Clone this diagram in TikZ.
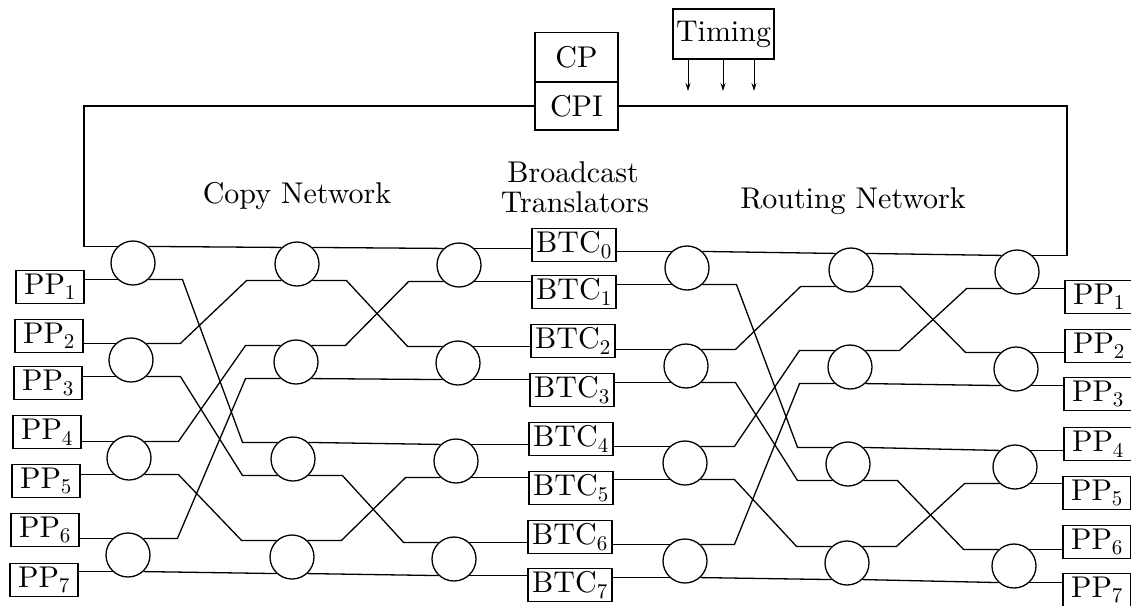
\documentclass[tikz,border=0pt]{standalone}
\usepackage{fontspec}
\setmainfont{lmroman10-regular.otf}
\usetikzlibrary{arrows.meta}
\begin{document}
\begin{tikzpicture}[x=1pt,y=-1pt,
  every node/.style={font=\fontsize{30}{36}\selectfont},
  wire/.style={line width=1.3pt},
  sw/.style={circle,draw,line width=1.3pt,minimum size=44pt,inner sep=0pt},
  ppbox/.style={draw,line width=1.2pt,minimum width=68pt,minimum height=33pt,inner sep=0pt},
  btcbox/.style={draw,line width=1.2pt,minimum width=84pt,minimum height=33pt,inner sep=0pt},
  cpbox/.style={draw,line width=1.2pt,minimum width=83pt,minimum height=48pt,inner sep=0pt},
  tarrow/.style={line width=1pt,-{Stealth[length=8pt,width=5pt]}}
]
\useasboundingbox (0,0) rectangle (1131,605);

% switches
\node[sw] (c11) at (133,263) {};
\node[sw] (c12) at (131,360) {};
\node[sw] (c13) at (129,458) {};
\node[sw] (c14) at (128,555) {};
\node[sw] (c21) at (297,264) {};
\node[sw] (c22) at (296,362) {};
\node[sw] (c23) at (293,459) {};
\node[sw] (c24) at (292,557) {};
\node[sw] (c31) at (459,265) {};
\node[sw] (c32) at (458,363) {};
\node[sw] (c33) at (456,461) {};
\node[sw] (c34) at (454,559) {};
\node[sw] (c41) at (687,268) {};
\node[sw] (c42) at (686,366) {};
\node[sw] (c43) at (685,463) {};
\node[sw] (c44) at (685,561) {};
\node[sw] (c51) at (851,270) {};
\node[sw] (c52) at (850,367) {};
\node[sw] (c53) at (848,464) {};
\node[sw] (c54) at (847,563) {};
\node[sw] (c61) at (1017,272) {};
\node[sw] (c62) at (1016,369) {};
\node[sw] (c63) at (1015,467) {};
\node[sw] (c64) at (1014,566) {};

% left processor ports
\node[ppbox] (lp1) at (50,287) {PP\textsubscript{1}};
\node[ppbox] (lp2) at (49,336) {PP\textsubscript{2}};
\node[ppbox] (lp3) at (48,383) {PP\textsubscript{3}};
\node[ppbox] (lp4) at (47,432) {PP\textsubscript{4}};
\node[ppbox] (lp5) at (46,481) {PP\textsubscript{5}};
\node[ppbox] (lp6) at (45,530) {PP\textsubscript{6}};
\node[ppbox] (lp7) at (44,580) {PP\textsubscript{7}};

% right processor ports
\node[ppbox] (rp1) at (1099,297) {PP\textsubscript{1}};
\node[ppbox] (rp2) at (1099,346) {PP\textsubscript{2}};
\node[ppbox] (rp3) at (1098,394) {PP\textsubscript{3}};
\node[ppbox] (rp4) at (1098,444) {PP\textsubscript{4}};
\node[ppbox] (rp5) at (1097,493) {PP\textsubscript{5}};
\node[ppbox] (rp6) at (1097,542) {PP\textsubscript{6}};
\node[ppbox] (rp7) at (1097,590) {PP\textsubscript{7}};

% broadcast translators
\node[btcbox] (b0) at (574,245) {BTC\textsubscript{0}};
\node[btcbox] (b1) at (574,292) {BTC\textsubscript{1}};
\node[btcbox] (b2) at (573,341) {BTC\textsubscript{2}};
\node[btcbox] (b3) at (572,390) {BTC\textsubscript{3}};
\node[btcbox] (b4) at (571,439) {BTC\textsubscript{4}};
\node[btcbox] (b5) at (571,488) {BTC\textsubscript{5}};
\node[btcbox] (b6) at (570,537) {BTC\textsubscript{6}};
\node[btcbox] (b7) at (570,585) {BTC\textsubscript{7}};

% CP / CPI and timing
\node[cpbox,minimum height=49pt] (cp) at (576.5,57) {CP};
\node[cpbox] (cpi) at (576.5,106) {CPI};
\node[draw,line width=1.2pt,minimum width=101pt,minimum height=50pt,inner sep=0pt] (timing) at (723.5,34) {Timing};
\coordinate (t1) at (688,91);
\coordinate (t2) at (723,91);
\coordinate (t3) at (754,91);
\draw[tarrow] (timing.south -| t1) -- (t1);
\draw[tarrow] (timing.south -| t2) -- (t2);
\draw[tarrow] (timing.south -| t3) -- (t3);

% labels
\node[anchor=base] (lcopy) at (297,203) {Copy Network};
\node[anchor=base] (lbc1) at (573,182) {Broadcast};
\node[anchor=base] (lbc2) at (575,212) {Translators};
\node[anchor=base] (lrout) at (853,208) {Routing Network};

% control frame
\coordinate (fl) at (84,106);
\coordinate (fr) at (1067,106);
\draw[wire] (cpi.west) -- (fl) |- (c11.133);
\draw[wire] (cpi.east) -- (fr) |- (c61.47);

% inputs
\draw[wire] (c11.227) -- (c11.227 -| lp1.east);
\draw[wire] (c12.133) -- (c12.133 -| lp2.east);
\draw[wire] (c12.227) -- (c12.227 -| lp3.east);
\draw[wire] (c13.133) -- (c13.133 -| lp4.east);
\draw[wire] (c13.227) -- (c13.227 -| lp5.east);
\draw[wire] (c14.133) -- (c14.133 -| lp6.east);
\draw[wire] (c14.227) -- (c14.227 -| lp7.east);

% stage 1 -> 2
\draw[wire] (c11.47) -- (c21.133);
\draw[wire] (c11.313) -- ++(34,0) -- ([xshift=-35pt]c23.133) -- (c23.133);
\draw[wire] (c12.47) -- ++(34,0) -- ([xshift=-35pt]c21.227) -- (c21.227);
\draw[wire] (c12.313) -- ++(34,0) -- ([xshift=-35pt]c23.227) -- (c23.227);
\draw[wire] (c13.47) -- ++(34,0) -- ([xshift=-35pt]c22.133) -- (c22.133);
\draw[wire] (c13.313) -- ++(34,0) -- ([xshift=-35pt]c24.133) -- (c24.133);
\draw[wire] (c14.47) -- ++(34,0) -- ([xshift=-35pt]c22.227) -- (c22.227);
\draw[wire] (c14.313) -- (c24.227);

% stage 2 -> 3
\draw[wire] (c21.47) -- (c31.133);
\draw[wire] (c21.313) -- ++(34,0) -- ([xshift=-35pt]c32.133) -- (c32.133);
\draw[wire] (c22.47) -- ++(34,0) -- ([xshift=-35pt]c31.227) -- (c31.227);
\draw[wire] (c22.313) -- (c32.227);
\draw[wire] (c23.47) -- (c33.133);
\draw[wire] (c23.313) -- ++(34,0) -- ([xshift=-35pt]c34.133) -- (c34.133);
\draw[wire] (c24.47) -- ++(34,0) -- ([xshift=-35pt]c33.227) -- (c33.227);
\draw[wire] (c24.313) -- (c34.227);

% stage 3 -> BTC
\draw[wire] (c31.47) -- (c31.47 -| b0.west);
\draw[wire] (c31.313) -- (c31.313 -| b1.west);
\draw[wire] (c32.47) -- (c32.47 -| b2.west);
\draw[wire] (c32.313) -- (c32.313 -| b3.west);
\draw[wire] (c33.47) -- (c33.47 -| b4.west);
\draw[wire] (c33.313) -- (c33.313 -| b5.west);
\draw[wire] (c34.47) -- (c34.47 -| b6.west);
\draw[wire] (c34.313) -- (c34.313 -| b7.west);

% BTC -> stage 4
\draw[wire] (c41.133 -| b0.east) -- (c41.133);
\draw[wire] (c41.227 -| b1.east) -- (c41.227);
\draw[wire] (c42.133 -| b2.east) -- (c42.133);
\draw[wire] (c42.227 -| b3.east) -- (c42.227);
\draw[wire] (c43.133 -| b4.east) -- (c43.133);
\draw[wire] (c43.227 -| b5.east) -- (c43.227);
\draw[wire] (c44.133 -| b6.east) -- (c44.133);
\draw[wire] (c44.227 -| b7.east) -- (c44.227);

% stage 4 -> 5
\draw[wire] (c41.47) -- (c51.133);
\draw[wire] (c41.313) -- ++(34,0) -- ([xshift=-35pt]c53.133) -- (c53.133);
\draw[wire] (c42.47) -- ++(34,0) -- ([xshift=-35pt]c51.227) -- (c51.227);
\draw[wire] (c42.313) -- ++(34,0) -- ([xshift=-35pt]c53.227) -- (c53.227);
\draw[wire] (c43.47) -- ++(34,0) -- ([xshift=-35pt]c52.133) -- (c52.133);
\draw[wire] (c43.313) -- ++(34,0) -- ([xshift=-35pt]c54.133) -- (c54.133);
\draw[wire] (c44.47) -- ++(34,0) -- ([xshift=-35pt]c52.227) -- (c52.227);
\draw[wire] (c44.313) -- (c54.227);

% stage 5 -> 6
\draw[wire] (c51.47) -- (c61.133);
\draw[wire] (c51.313) -- ++(34,0) -- ([xshift=-35pt]c62.133) -- (c62.133);
\draw[wire] (c52.47) -- ++(34,0) -- ([xshift=-35pt]c61.227) -- (c61.227);
\draw[wire] (c52.313) -- (c62.227);
\draw[wire] (c53.47) -- (c63.133);
\draw[wire] (c53.313) -- ++(34,0) -- ([xshift=-35pt]c64.133) -- (c64.133);
\draw[wire] (c54.47) -- ++(34,0) -- ([xshift=-35pt]c63.227) -- (c63.227);
\draw[wire] (c54.313) -- (c64.227);

% outputs
\draw[wire] (c61.313) -- (c61.313 -| rp1.west);
\draw[wire] (c62.47) -- (c62.47 -| rp2.west);
\draw[wire] (c62.313) -- (c62.313 -| rp3.west);
\draw[wire] (c63.47) -- (c63.47 -| rp4.west);
\draw[wire] (c63.313) -- (c63.313 -| rp5.west);
\draw[wire] (c64.47) -- (c64.47 -| rp6.west);
\draw[wire] (c64.313) -- (c64.313 -| rp7.west);
\end{tikzpicture}
\end{document}
